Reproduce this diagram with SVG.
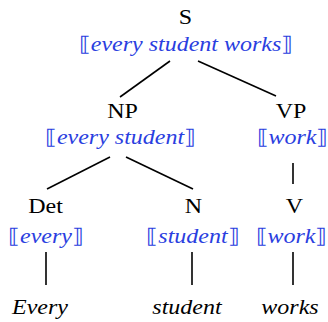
<svg xmlns="http://www.w3.org/2000/svg" width="328" height="322" viewBox="0 0 328 322">
<style>
text{font-family:'Liberation Serif','Times New Roman',serif;font-size:20px;text-anchor:middle}
.cat{fill:#000}
.sem{font-style:italic;fill:#2a3ee0}
.br{font-style:normal}
.word{font-style:italic;fill:#000}
.edge{stroke:#000;stroke-width:1.6;fill:none}
</style>
<rect width="328" height="322" fill="#fff"/>
<g id="connectors">
<line class="edge" x1="170" y1="61" x2="120" y2="97"/>
<line class="edge" x1="198" y1="61" x2="276" y2="96"/>
<line class="edge" x1="110" y1="157" x2="47" y2="189"/>
<line class="edge" x1="126" y1="157" x2="193" y2="189"/>
<line class="edge" x1="293" y1="163" x2="293" y2="184"/>
<line class="edge" x1="46" y1="252" x2="46" y2="285"/>
<line class="edge" x1="192" y1="252" x2="192" y2="285"/>
<line class="edge" x1="293" y1="252" x2="293" y2="285"/>
</g>
<g id="S"><text class="cat" transform="translate(185.5,24) scale(1.2,1)">S</text><text class="sem" transform="translate(186,51) scale(1.2,1)"><tspan class="br">⟦</tspan>every student works<tspan class="br">⟧</tspan></text></g>
<g id="NP"><text class="cat" transform="translate(122.5,118) scale(1.2,1)">NP</text><text class="sem" transform="translate(120.5,144) scale(1.2,1)"><tspan class="br">⟦</tspan>every student<tspan class="br">⟧</tspan></text></g>
<g id="VP"><text class="cat" transform="translate(291,118) scale(1.2,1)">VP</text><text class="sem" transform="translate(292.5,144) scale(1.2,1)"><tspan class="br">⟦</tspan>work<tspan class="br">⟧</tspan></text></g>
<g id="Det"><text class="cat" transform="translate(45.5,213) scale(1.2,1)">Det</text><text class="sem" transform="translate(46,243) scale(1.2,1)"><tspan class="br">⟦</tspan>every<tspan class="br">⟧</tspan></text></g>
<g id="N"><text class="cat" transform="translate(193.5,213) scale(1.2,1)">N</text><text class="sem" transform="translate(193,243) scale(1.2,1)"><tspan class="br">⟦</tspan>student<tspan class="br">⟧</tspan></text></g>
<g id="V"><text class="cat" transform="translate(294.5,213) scale(1.2,1)">V</text><text class="sem" transform="translate(291.5,243) scale(1.2,1)"><tspan class="br">⟦</tspan>work<tspan class="br">⟧</tspan></text></g>
<g id="Every"><text class="word" transform="translate(40,314) scale(1.2,1)">Every</text></g>
<g id="student"><text class="word" transform="translate(187,314) scale(1.2,1)">student</text></g>
<g id="works"><text class="word" transform="translate(290,314) scale(1.2,1)">works</text></g>
</svg>
